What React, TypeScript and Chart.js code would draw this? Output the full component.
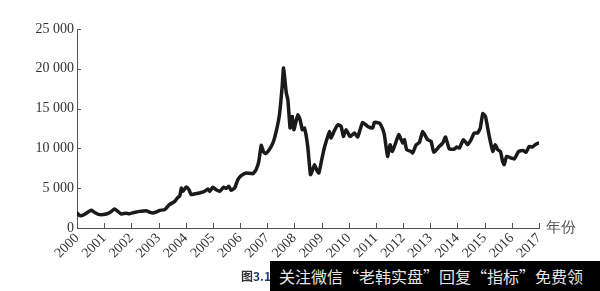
import React, { useEffect, useRef } from "react";
import { Chart, registerables } from "chart.js";

Chart.register(...registerables);

const years = [
  2000.0, 2000.08, 2000.16, 2000.3, 2000.45, 2000.53, 2000.65, 2000.83, 2001.08, 2001.25,
  2001.38, 2001.5, 2001.63, 2001.8, 2001.94, 2002.1, 2002.3, 2002.55, 2002.7, 2002.79,
  2002.95, 2003.04, 2003.22, 2003.4, 2003.6, 2003.71, 2003.78, 2003.84, 2003.9, 2003.96,
  2004.02, 2004.12, 2004.2, 2004.35, 2004.5, 2004.69, 2004.82, 2004.88, 2005.0, 2005.12,
  2005.25, 2005.39, 2005.5, 2005.59, 2005.67, 2005.8, 2005.92, 2006.04, 2006.23, 2006.47,
  2006.59, 2006.69, 2006.78, 2006.86, 2006.94, 2007.06, 2007.21, 2007.33, 2007.45, 2007.55,
  2007.6, 2007.7, 2007.76, 2007.84, 2007.88, 2007.92, 2007.98, 2008.06, 2008.13, 2008.21,
  2008.29, 2008.37, 2008.49, 2008.59, 2008.66, 2008.74, 2008.82, 2008.9, 2009.0, 2009.1,
  2009.2, 2009.29, 2009.35, 2009.48, 2009.6, 2009.72, 2009.8, 2009.9, 2010.05, 2010.21,
  2010.33, 2010.51, 2010.7, 2010.88, 2010.94, 2011.13, 2011.25, 2011.31, 2011.43, 2011.52,
  2011.6, 2011.68, 2011.84, 2011.93, 2011.99, 2012.05, 2012.13, 2012.29, 2012.35, 2012.48,
  2012.6, 2012.72, 2012.9, 2013.03, 2013.13, 2013.33, 2013.46, 2013.56, 2013.7, 2013.89,
  2013.97, 2014.07, 2014.22, 2014.38, 2014.5, 2014.62, 2014.74, 2014.84, 2014.93, 2015.03,
  2015.17, 2015.3, 2015.39, 2015.48, 2015.58, 2015.66, 2015.72, 2015.81, 2015.97, 2016.09,
  2016.25, 2016.42, 2016.52, 2016.64, 2016.76, 2016.86, 2016.98,
];

const values = [
  1880, 1600, 1550, 1750, 2100, 2220, 1950, 1680, 1760, 2050,
  2390, 2100, 1760, 1850, 1800, 1950, 2090, 2180, 1950, 1885,
  2050, 2220, 2300, 2930, 3350, 3850, 4000, 5025, 4600, 4900,
  5150, 4815, 4190, 4300, 4400, 4600, 4900, 4600, 5110, 4800,
  4600, 5110, 5000, 5235, 4730, 5025, 6070, 6575, 6910, 6825,
  7330, 8375, 10385, 9600, 9340, 9760, 10680, 12145, 14240, 17800,
  20100, 17000, 16100, 12560, 13800, 14020, 12350, 13400, 14230, 13600,
  12350, 12560, 10250, 6700, 7200, 7950, 7300, 6900, 8500, 10050,
  11200, 12130, 11300, 12300, 12970, 12760, 11500, 12350, 11500, 11930,
  11430, 13260, 12760, 12560, 13260, 13190, 12430, 11720, 9000, 10460,
  9620, 10250, 11720, 11090, 10670, 11090, 9830, 9620, 9420, 10460,
  10750, 12130, 11090, 10880, 9500, 10250, 10670, 11430, 9920, 9920,
  10170, 10050, 11090, 10460, 11090, 11930, 11930, 12560, 14360, 14020,
  11500, 9620, 10460, 9830, 9620, 8370, 7950, 9000, 8790, 8670,
  9620, 9750, 9500, 10250, 10170, 10460, 10670,
];

const yTicks = [0, 5000, 10000, 15000, 20000, 25000];
const xAxisUnit = "年份";
const captionNum = "3.1";
const bannerText = "关注微信“老韩实盘”回复“指标”免费领";

const fmt = (v: number) =>
  v >= 1000 ? `${Math.floor(v / 1000)} ${String(v % 1000).padStart(3, "0")}` : String(v);

const serif = '"Liberation Serif", "Times New Roman", serif';

const inwardTicks = {
  id: "inwardTicks",
  afterDraw(chart: any) {
    const { ctx, scales } = chart;
    const xs = scales.x;
    const ys = scales.y;
    ctx.save();
    ctx.strokeStyle = "#555";
    ctx.lineWidth = 1;
    ctx.beginPath();
    xs.ticks.forEach((t: any) => {
      const px = Math.round(xs.getPixelForValue(t.value)) + 0.5;
      ctx.moveTo(px, ys.bottom);
      ctx.lineTo(px, ys.bottom - 5);
    });
    ys.ticks.forEach((t: any) => {
      const py = Math.round(ys.getPixelForValue(t.value)) + 0.5;
      ctx.moveTo(xs.left, py);
      ctx.lineTo(xs.left + 4, py);
    });
    ctx.stroke();
    ctx.restore();
  },
};

export default function App() {
  const ref = useRef<HTMLCanvasElement | null>(null);

  useEffect(() => {
    document.body.style.margin = "0";
    const canvas = ref.current;
    if (!canvas) return;
    const chart = new Chart(canvas, {
      type: "line",
      data: {
        datasets: [
          {
            data: years.map((x, i) => ({ x, y: values[i] })),
            borderColor: "#1a1a1a",
            borderWidth: 3.5,
            pointRadius: 0,
            tension: 0.15,
            borderJoinStyle: "round",
            borderCapStyle: "round",
            fill: false,
          },
        ],
      },
      options: {
        responsive: false,
        animation: false,
        layout: { padding: { top: 29, right: 61, left: 0, bottom: 0 } },
        plugins: { legend: { display: false }, tooltip: { enabled: false } },
        scales: {
          x: {
            type: "linear",
            min: 2000,
            max: 2017,
            afterFit: (s: any) => {
              s.height = 63;
            },
            afterBuildTicks: (s: any) => {
              s.ticks = [];
              for (let y = 2000; y <= 2017; y++) s.ticks.push({ value: y });
            },
            ticks: {
              autoSkip: false,
              minRotation: 45,
              maxRotation: 45,
              padding: 2,
              color: "#333",
              font: { family: serif, size: 14 },
              callback: (v: any) => String(v),
            },
            grid: { display: true, drawOnChartArea: false, drawTicks: false },
            border: { display: true, color: "#555", width: 1 },
          },
          y: {
            min: 0,
            max: 25000,
            afterFit: (s: any) => {
              s.width = 77;
            },
            afterBuildTicks: (s: any) => {
              s.ticks = yTicks.map((v) => ({ value: v }));
            },
            ticks: {
              padding: 3,
              color: "#333",
              font: { family: serif, size: 14 },
              callback: (v: any) => fmt(Number(v)),
            },
            grid: { display: true, drawOnChartArea: false, drawTicks: false },
            border: { display: true, color: "#555", width: 1 },
          },
        },
      },
      plugins: [inwardTicks],
    });
    return () => chart.destroy();
  }, []);

  return (
    <div style={{ position: "relative", width: 600, height: 291, background: "#fff", overflow: "hidden" }}>
      <canvas ref={ref} width={600} height={291} style={{ position: "absolute", left: 0, top: 0 }} />
      <span
        style={{
          position: "absolute",
          left: 546,
          top: 218,
          fontFamily: serif,
          fontSize: 15,
          color: "#555",
          whiteSpace: "nowrap",
        }}
      >
        {xAxisUnit}
      </span>
      <span
        style={{
          position: "absolute",
          left: 241,
          top: 267,
          fontFamily: '"Noto Sans CJK SC", sans-serif',
          fontWeight: 700,
          fontSize: 12,
          whiteSpace: "nowrap",
        }}
      >
        <span style={{ color: "#333" }}>图</span>
        <span style={{ color: "#1f3a6e" }}>{captionNum}</span>
      </span>
      <div
        style={{
          position: "absolute",
          left: 270,
          top: 261,
          width: 330,
          height: 30,
          background: "#000",
          color: "#e6e6e6",
          fontFamily: '"Noto Sans CJK SC", sans-serif',
          fontSize: 16,
          lineHeight: "30px",
          paddingLeft: 9,
          boxSizing: "border-box",
          whiteSpace: "nowrap",
        }}
      >
        {bannerText}
      </div>
    </div>
  );
}
